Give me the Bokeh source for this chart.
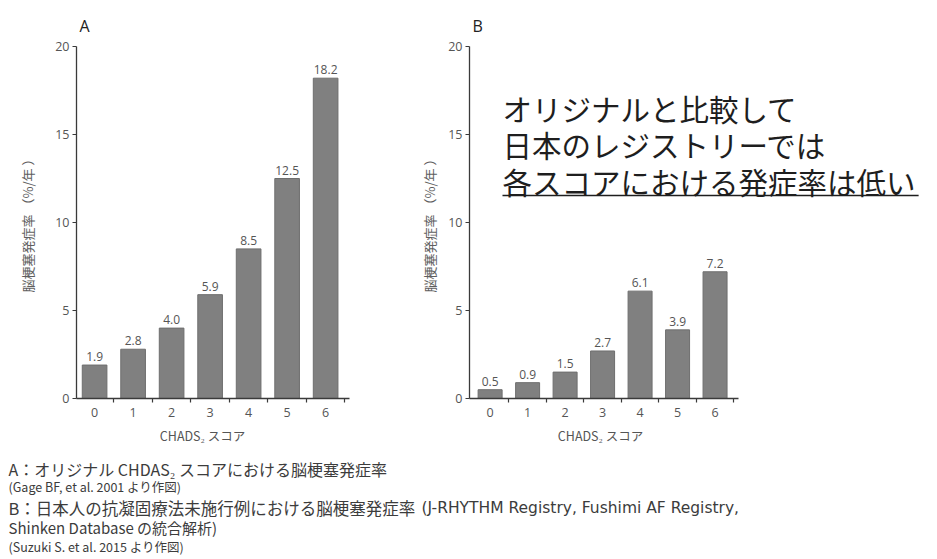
from bokeh.plotting import figure
from bokeh.layouts import column, row
from bokeh.models import Range1d, FixedTicker
from bokeh.core.properties import value
from bokeh.embed import file_html
from bokeh.resources import INLINE

# CHADS2 score categories and annual stroke rates (%/year)
scores = [0, 1, 2, 3, 4, 5, 6]
rate_original = [1.9, 2.8, 4.0, 5.9, 8.5, 12.5, 18.2]   # A: original CHADS2 cohort
rate_japan = [0.5, 0.9, 1.5, 2.7, 6.1, 3.9, 7.2]        # B: Japanese registries
y_ticks = [0, 5, 10, 15, 20]

x_axis_label = "CHADS\u2082 スコア"
y_axis_label = "脳梗塞発症率 （%/年 ）"

callout_lines = [
    "オリジナルと比較して",
    "日本のレジストリーでは",
    "各スコアにおける発症率は低い",
]

NUM_FONT = "Open Sans"
JP_FONT = "Noto Sans CJK JP"
LATIN_FONT = "DejaVu Sans"
AXIS_COLOR = "#3a3a3a"
TEXT_COLOR = "#555555"
BAR_COLOR = "#808080"

PANEL_H = 425          # bar panels; the strip below holds axis titles and notes
FRAME_TOP = 46
FRAME_BOTTOM = 398


def py_to_y(py):
    # vertical pixel position inside a bar panel -> data units
    return 20 - (py - FRAME_TOP) * 20 / (FRAME_BOTTOM - FRAME_TOP)


def bar_panel(tag, values, width, border_left, border_right, x_start, x_end,
              axis_end, ylabel_standoff):
    p = figure(width=width, height=PANEL_H,
               x_range=Range1d(x_start, x_end), y_range=Range1d(0, 20),
               output_backend="svg", toolbar_location=None,
               min_border_left=border_left, min_border_right=border_right,
               min_border_top=FRAME_TOP, min_border_bottom=PANEL_H - FRAME_BOTTOM)
    p.outline_line_color = None
    p.grid.visible = False
    p.background_fill_color = "white"
    p.border_fill_color = "white"

    p.title.text = tag
    p.title.align = "left"
    p.title.offset = 3
    p.title.standoff = 20
    p.title.text_font = NUM_FONT
    p.title.text_font_size = "16px"
    p.title.text_font_style = "normal"
    p.title.text_color = "#222222"

    p.vbar(x=scores, top=values, bottom=0, width=0.64,
           fill_color=BAR_COLOR, line_color="#6e6e6e", line_width=1)

    p.text(x=scores, y=values, text=[f"{v:.1f}" for v in values],
           y_offset=-4, text_align="center", text_baseline="bottom",
           text_font=value(NUM_FONT), text_font_size="12px",
           text_color=TEXT_COLOR)

    xa = p.xaxis[0]
    xa.ticker = FixedTicker(ticks=scores, minor_ticks=[s + 0.5 for s in scores])
    xa.bounds = (x_start, axis_end)
    xa.axis_line_color = AXIS_COLOR
    xa.axis_line_width = 1.3
    xa.major_tick_line_color = None
    xa.major_tick_in = 0
    xa.major_tick_out = 3
    xa.minor_tick_line_color = AXIS_COLOR
    xa.minor_tick_line_width = 1.2
    xa.minor_tick_in = 0
    xa.minor_tick_out = 4
    xa.major_label_standoff = 5
    xa.major_label_text_font = NUM_FONT
    xa.major_label_text_font_size = "12.5px"
    xa.major_label_text_color = TEXT_COLOR

    ya = p.yaxis[0]
    ya.ticker = FixedTicker(ticks=y_ticks, minor_ticks=[])
    ya.axis_line_color = AXIS_COLOR
    ya.axis_line_width = 1.3
    ya.major_tick_line_color = AXIS_COLOR
    ya.major_tick_line_width = 1.2
    ya.major_tick_in = 0
    ya.major_tick_out = 4
    ya.minor_tick_line_color = None
    ya.major_label_standoff = 3
    ya.major_label_text_font = NUM_FONT
    ya.major_label_text_font_size = "12.5px"
    ya.major_label_text_color = TEXT_COLOR
    ya.axis_label = y_axis_label
    ya.axis_label_text_font = JP_FONT
    ya.axis_label_text_font_size = "13px"
    ya.axis_label_text_font_style = "normal"
    ya.axis_label_text_color = "#5e5e5e"
    ya.axis_label_standoff = ylabel_standoff
    return p


# Panel A: 38.5 px per category
pa = bar_panel("A", rate_original, 400, 76, 51, -0.47, 6.62, 6.62, 15)

# Panel B: frame extends to the right so the callout text sits inside it
pb = bar_panel("B", rate_japan, 537, 69, 5, -0.55, 11.80, 6.63, 6)

callout_x = 0.33
callout_y = [py_to_y(107), py_to_y(143), py_to_y(180)]
pb.text(x=[callout_x] * 3, y=callout_y, text=callout_lines,
        text_align="left", text_baseline="middle",
        text_font=value(JP_FONT), text_font_size="29.5px",
        text_color="#1e1e1e")
pb.segment(x0=[callout_x], y0=[py_to_y(195)], x1=[11.43], y1=[py_to_y(195)],
           line_color="#1e1e1e", line_width=1.6)

# Bottom strip: data units equal page pixels
pf = figure(width=937, height=559 - PANEL_H, x_range=Range1d(0, 937),
            y_range=Range1d(559, PANEL_H), output_backend="svg",
            toolbar_location=None, min_border=0)
pf.axis.visible = False
pf.grid.visible = False
pf.outline_line_color = None

# x-axis titles under each panel
pf.text(x=[202, 600], y=[435, 435], text=[x_axis_label, x_axis_label],
        text_align="center", text_baseline="middle",
        text_font=value(JP_FONT), text_font_size="12.5px",
        text_color=TEXT_COLOR)

FOOT_COLOR = "#3c3c3c"
jp_notes = [
    "A：オリジナル CHDAS\u2082 スコアにおける脳梗塞発症率",
    "B：日本人の抗凝固療法未施行例における脳梗塞発症率",
    "Shinken Database の統合解析)",
]
pf.text(x=[8, 8, 8], y=[468, 507, 527], text=jp_notes,
        text_font_size=["16px", "16.5px", "15px"],
        text_align="left", text_baseline="middle",
        text_font=value(JP_FONT), text_color=FOOT_COLOR)
pf.text(x=[421], y=[507], text=["(J-RHYTHM Registry,  Fushimi AF Registry,"],
        text_font_size="15.5px", text_align="left", text_baseline="middle",
        text_font=value(LATIN_FONT), text_color=FOOT_COLOR)
pf.text(x=[8, 8], y=[486, 546],
        text=["(Gage BF, et al. 2001 より作図)", "(Suzuki S. et al. 2015 より作図)"],
        text_font_size="12.5px", text_align="left", text_baseline="middle",
        text_font=value(JP_FONT), text_color=FOOT_COLOR)

layout = column(row(pa, pb, spacing=0), pf, spacing=0)

with open("out.html", "w") as f:
    f.write(file_html(layout, INLINE))
